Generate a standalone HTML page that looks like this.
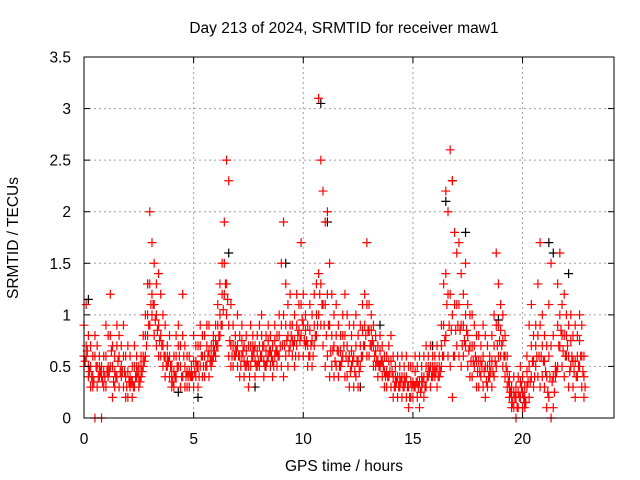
<!DOCTYPE html>
<html><head><meta charset="utf-8">
<style>
body{margin:0;background:#fff;}
svg{display:block;font-family:"Liberation Sans",sans-serif;}
</style></head>
<body>
<svg id="chart" width="640" height="480" viewBox="0 0 640 480">
<rect width="640" height="480" fill="#fff"/>
<text x="344" y="33" font-size="15.5" text-anchor="middle">Day 213 of 2024, SRMTID for receiver maw1</text>
<g id="grid"></g>
<g id="marks"></g>
<rect x="84" y="57" width="530" height="361" fill="none" stroke="#000" stroke-width="1"/>
<g id="ticks"></g>
<text x="344" y="471" font-size="15.5" text-anchor="middle">GPS time / hours</text>
<text x="18" y="238" font-size="15.5" text-anchor="middle" transform="rotate(-90 18 238)">SRMTID / TECUs</text>
</svg>
<script>
const xTicks=[0,5,10,15,20];
const yTicks=[0,0.5,1,1.5,2,2.5,3,3.5];
const yTickLabels=["0","0.5","1","1.5","2","2.5","3","3.5"];
const tStart=0, tStep=0.1, tOffsetQ=0.05;
const valsHi=[0.9,1.1,0.8,0.7,0.6,0.8,0.7,0.6,0.5,0.6,
0.9,0.8,1.2,0.7,0.6,0.9,0.8,0.7,0.9,0.6,
0.7,0.6,0.5,0.7,0.6,0.5,0.6,0.8,1.0,1.3,
2.0,1.7,1.5,1.3,1.4,1.2,1.0,0.9,0.7,0.8,
0.5,0.6,0.8,0.9,0.7,1.2,0.7,0.6,0.6,0.5,
0.8,0.7,0.7,0.9,0.8,0.8,0.9,0.9,0.7,0.8,
0.9,1.1,1.3,1.5,1.9,2.5,2.3,1.1,0.9,0.8,
1.0,0.8,0.9,0.7,0.8,0.7,0.9,0.8,0.7,0.8,
0.9,1.0,0.7,0.8,0.9,0.8,0.7,0.9,0.8,1.0,
1.5,1.9,1.3,1.1,1.2,0.9,1.0,1.2,1.1,1.7,
1.2,1.0,0.9,1.1,1.0,1.2,1.3,3.1,2.5,2.2,
1.9,2.0,1.5,1.2,1.0,1.1,0.9,0.8,1.0,1.2,
1.0,0.9,0.8,0.9,1.0,0.8,0.9,1.1,1.2,1.7,
1.1,1.0,0.9,0.8,0.7,0.8,0.7,0.6,0.6,0.7,
0.8,0.6,0.5,0.6,0.5,0.6,0.5,0.6,0.5,0.5,
0.5,0.6,0.5,0.6,0.5,0.6,0.7,0.6,0.7,0.6,
0.6,0.7,0.6,0.9,1.3,2.2,2.0,2.6,2.3,1.8,
1.6,1.7,1.4,1.2,1.5,1.1,1.0,1.0,0.9,0.8,
0.8,0.7,0.9,0.8,0.7,0.6,0.8,1.0,1.6,1.3,
1.1,1.0,0.8,0.6,0.4,0.3,0.4,0.3,0.4,0.5,
0.4,0.3,0.6,0.9,1.1,0.8,0.9,1.3,1.7,1.0,
0.8,0.7,1.1,1.5,0.8,0.5,1.3,1.6,1.1,1.2,
1.0,0.9,1.0,0.8,0.9,0.8,1.0,0.9,0.6];
const valsMid=[0.6,0.7,0.5,0.5,0.4,0.6,0.5,0.5,0.4,0.45,
0.6,0.5,0.8,0.5,0.45,0.7,0.6,0.5,0.6,0.4,
0.45,0.4,0.35,0.5,0.5,0.4,0.5,0.6,0.8,1.0,
1.3,1.2,1.1,1.0,0.9,0.8,0.7,0.6,0.6,0.6,
0.4,0.45,0.6,0.7,0.5,0.8,0.5,0.45,0.45,0.45,
0.55,0.55,0.5,0.7,0.6,0.6,0.7,0.65,0.6,0.7,
0.75,0.9,1.0,1.2,1.5,1.3,0.9,0.7,0.7,0.7,
0.7,0.6,0.75,0.55,0.65,0.5,0.7,0.7,0.55,0.65,
0.7,0.8,0.55,0.65,0.75,0.65,0.55,0.75,0.65,0.8,
0.9,1.0,0.9,0.8,0.9,0.75,0.75,0.9,0.85,1.1,
0.9,0.85,0.7,0.85,0.75,0.9,1.0,1.4,1.3,1.1,
1.1,1.2,0.9,0.8,0.7,0.8,0.65,0.65,0.8,0.8,
0.7,0.6,0.65,0.6,0.7,0.55,0.7,0.85,0.9,1.1,
0.85,0.85,0.7,0.65,0.55,0.65,0.55,0.45,0.45,0.55,
0.55,0.4,0.4,0.4,0.4,0.4,0.4,0.4,0.3,0.35,
0.35,0.45,0.35,0.35,0.4,0.4,0.5,0.5,0.5,0.5,
0.5,0.5,0.5,0.7,0.9,1.4,1.2,1.2,1.0,1.1,
1.1,1.1,0.9,0.9,1.0,0.8,0.7,0.7,0.7,0.55,
0.55,0.55,0.6,0.5,0.5,0.5,0.55,0.7,0.9,0.9,
0.85,0.75,0.6,0.45,0.3,0.2,0.25,0.2,0.25,0.35,
0.25,0.2,0.45,0.5,0.7,0.55,0.7,0.8,0.9,0.7,
0.55,0.4,0.6,0.7,0.4,0.45,0.9,1.0,0.8,0.8,
0.8,0.6,0.75,0.55,0.55,0.6,0.75,0.6,0.4];
const valsQ=[0.55,0.65,0.45,0.4,0.35,0.5,0.4,0.45,0.35,0.4,
0.45,0.45,0.65,0.35,0.4,0.55,0.45,0.45,0.45,0.3,
0.35,0.35,0.3,0.4,0.45,0.35,0.45,0.55,0.7,0.9,
1.1,1.1,0.95,0.85,0.75,0.7,0.6,0.5,0.55,0.5,
0.35,0.4,0.5,0.6,0.4,0.6,0.4,0.4,0.4,0.4,
0.45,0.5,0.4,0.6,0.5,0.5,0.6,0.55,0.55,0.65,
0.7,0.8,0.9,1.05,1.3,1.15,0.75,0.6,0.6,0.65,
0.6,0.5,0.65,0.5,0.55,0.4,0.6,0.65,0.5,0.55,
0.6,0.7,0.5,0.55,0.65,0.6,0.5,0.65,0.6,0.7,
0.7,0.7,0.75,0.65,0.8,0.7,0.6,0.8,0.75,0.95,
0.75,0.75,0.6,0.7,0.6,0.8,0.9,1.2,1.1,0.9,
0.8,0.9,0.65,0.65,0.55,0.65,0.5,0.55,0.7,0.6,
0.55,0.45,0.55,0.45,0.55,0.45,0.6,0.7,0.8,0.85,
0.7,0.75,0.6,0.55,0.5,0.55,0.5,0.4,0.4,0.45,
0.45,0.3,0.35,0.3,0.35,0.3,0.35,0.3,0.2,0.3,
0.3,0.35,0.3,0.25,0.35,0.3,0.4,0.45,0.4,0.45,
0.45,0.4,0.45,0.6,0.75,1.1,0.9,0.85,0.6,0.85,
0.9,0.85,0.7,0.75,0.85,0.65,0.55,0.55,0.6,0.45,
0.45,0.5,0.45,0.35,0.4,0.45,0.45,0.55,0.7,0.75,
0.7,0.6,0.5,0.35,0.25,0.15,0.2,0.1,0.2,0.3,
0.2,0.15,0.35,0.35,0.55,0.4,0.6,0.6,0.6,0.55,
0.45,0.25,0.4,0.35,0.25,0.45,0.7,0.85,0.65,0.6,
0.7,0.45,0.6,0.45,0.4,0.5,0.6,0.45,0.3];
const valsLo=[0.5,0.6,0.4,0.3,0.3,0.0,0.3,0.4,0.0,0.3,
0.3,0.4,0.5,0.2,0.3,0.4,0.3,0.4,0.3,0.2,
0.2,0.3,0.2,0.3,0.4,0.3,0.4,0.5,0.6,0.8,
0.9,1.0,0.8,0.7,0.6,0.6,0.5,0.4,0.5,0.4,
0.3,0.3,0.4,0.5,0.3,0.4,0.3,0.3,0.3,0.4,
0.3,0.4,0.3,0.5,0.4,0.4,0.5,0.4,0.5,0.6,
0.6,0.7,0.8,0.9,1.2,1.0,0.6,0.5,0.5,0.6,
0.5,0.4,0.6,0.4,0.5,0.3,0.5,0.6,0.4,0.5,
0.5,0.6,0.4,0.5,0.6,0.5,0.4,0.6,0.5,0.6,
0.5,0.4,0.6,0.5,0.7,0.6,0.5,0.7,0.6,0.8,
0.6,0.7,0.5,0.6,0.5,0.7,0.8,1.0,0.9,0.7,
0.5,0.6,0.4,0.5,0.4,0.5,0.4,0.5,0.6,0.4,
0.4,0.3,0.5,0.3,0.4,0.3,0.5,0.6,0.7,0.6,
0.6,0.7,0.5,0.5,0.4,0.5,0.4,0.3,0.3,0.4,
0.3,0.2,0.3,0.2,0.3,0.2,0.3,0.2,0.1,0.2,
0.2,0.3,0.2,0.1,0.3,0.2,0.3,0.4,0.3,0.4,
0.4,0.3,0.4,0.5,0.6,0.8,0.6,0.5,0.2,0.6,
0.7,0.6,0.5,0.6,0.7,0.5,0.4,0.4,0.5,0.3,
0.3,0.4,0.3,0.2,0.3,0.4,0.3,0.4,0.5,0.6,
0.6,0.5,0.4,0.3,0.2,0.1,0.1,0.0,0.1,0.2,
0.1,0.1,0.3,0.2,0.4,0.3,0.5,0.4,0.3,0.4,
0.3,0.1,0.2,0.0,0.1,0.4,0.5,0.7,0.5,0.4,
0.6,0.3,0.5,0.3,0.2,0.4,0.5,0.3,0.2];
const blackTimes=[0.2,2.9,4.3,5.2,6.6,7.8,9.2,10.8,11.1,12.6,13.5,15.9,16.5,16.8,17.4,18.9,20.1,21.2,21.4,22.1];
const blackVals=[1.15,1.3,0.25,0.2,1.6,0.3,1.5,3.05,1.9,0.3,0.9,0.7,2.1,2.3,1.8,0.95,0.15,1.7,1.6,1.4];

const X0=84,X1=614,Y0=418,Y1=57,XMAX=24.17,YMAX=3.5;
const xs=v=>X0+(v/XMAX)*(X1-X0);
const ys=v=>Y0-(v/YMAX)*(Y0-Y1);
const NS="http://www.w3.org/2000/svg";
const grid=document.getElementById('grid'),ticks=document.getElementById('ticks'),marks=document.getElementById('marks');
function mk(tag,attrs,parent){const e=document.createElementNS(NS,tag);for(const k in attrs)e.setAttribute(k,attrs[k]);parent.appendChild(e);return e;}
xTicks.forEach(t=>{
  const x=xs(t);
  if(t>0){const g=mk('line',{x1:x,x2:x,y1:Y1,y2:Y0,stroke:'#a0a0a0','stroke-dasharray':'2,3'},grid);
  
  }
  mk('line',{x1:x,x2:x,y1:Y0,y2:Y0-6,stroke:'#000'},ticks);
  mk('line',{x1:x,x2:x,y1:Y1,y2:Y1+6,stroke:'#000'},ticks);
  const l=mk('text',{x:x,y:444,'font-size':15.5,'text-anchor':'middle'},ticks);l.textContent=String(t);
  
  
});
yTicks.forEach((t,i)=>{
  const y=ys(t);
  if(t>0&&t<YMAX){const g=mk('line',{x1:X0,x2:X1,y1:y,y2:y,stroke:'#a0a0a0','stroke-dasharray':'2,3'},grid);
  
  }
  mk('line',{x1:X0,x2:X0+6,y1:y,y2:y,stroke:'#000'},ticks);
  mk('line',{x1:X1,x2:X1-6,y1:y,y2:y,stroke:'#000'},ticks);
  const l=mk('text',{x:71,y:y+5.5,'font-size':15.5,'text-anchor':'end'},ticks);l.textContent=yTickLabels[i];
  
  
});
function plus(t,v,color,name){
  const x=xs(t),y=ys(v);
  const p=mk('path',{d:`M${x-4.5},${y}H${x+4.5}M${x},${y-4.5}V${y+4.5}`,stroke:color,'stroke-width':1.2,fill:'none'},marks);
  
  
}
blackTimes.forEach((t,i)=>plus(t,blackVals[i],'#000','black-point'));
[valsLo,valsMid,valsHi].forEach(arr=>arr.forEach((v,i)=>plus(tStart+i*tStep,v,'#f00','srmtid-point')));
valsQ.forEach((v,i)=>plus(tStart+tOffsetQ+i*tStep,v,'#f00','srmtid-point'));
</script>
</body></html>
